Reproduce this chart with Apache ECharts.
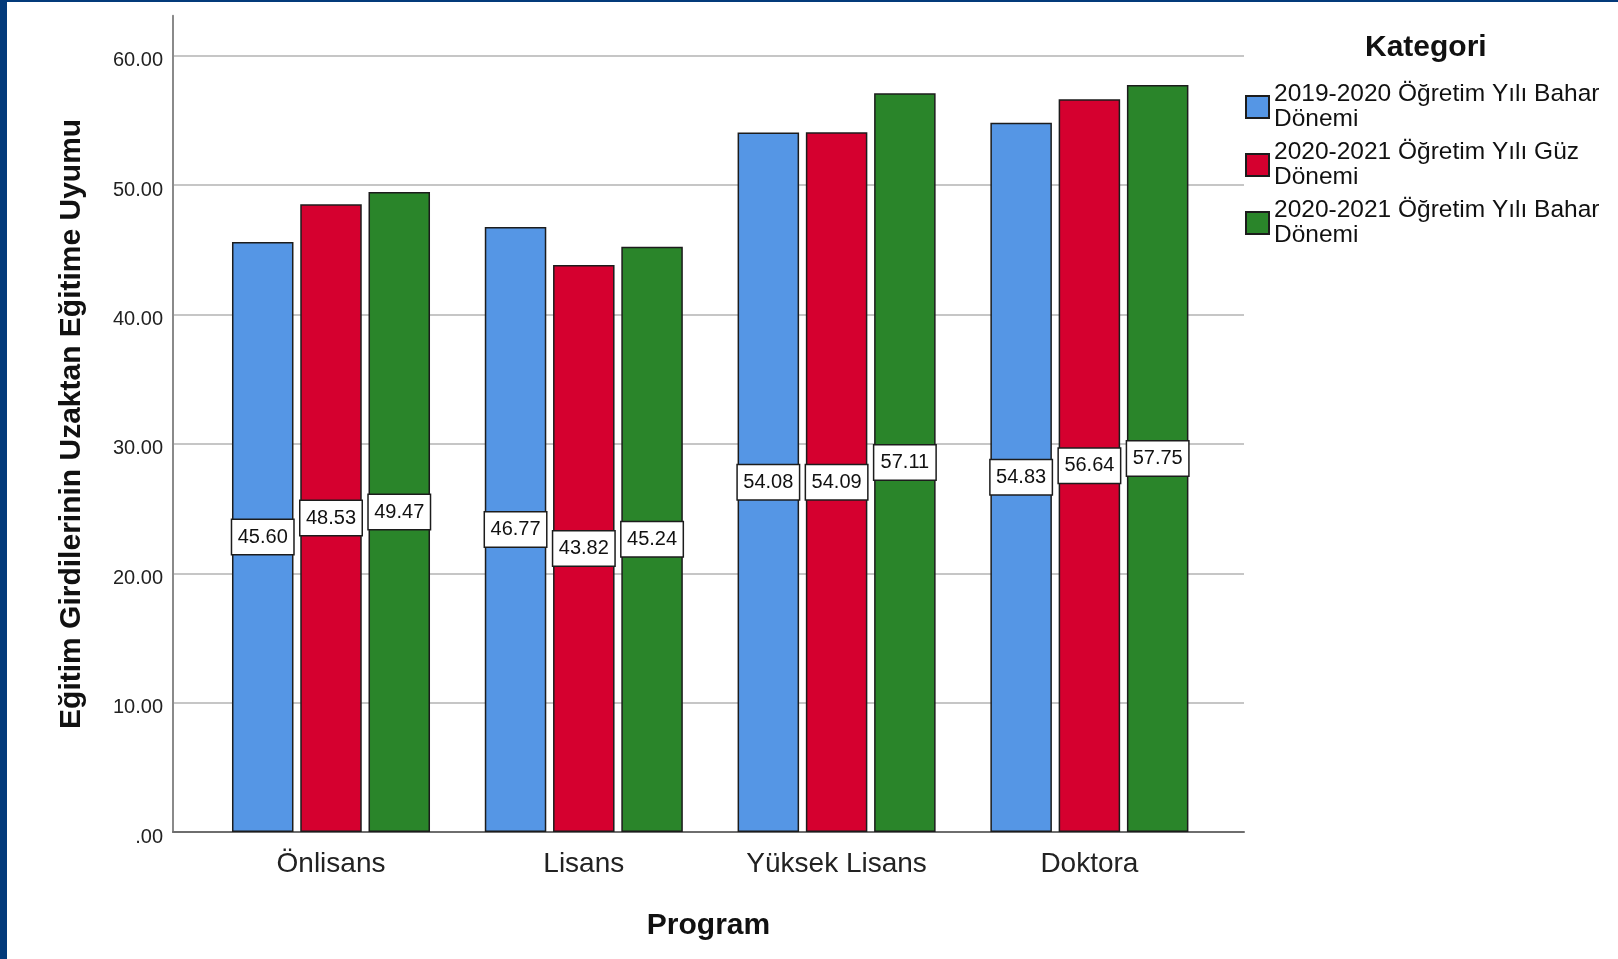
<!DOCTYPE html>
<html>
<head>
<meta charset="utf-8">
<script src="https://cdn.jsdelivr.net/npm/echarts@6/dist/echarts.min.js"></script>
<style>
html,body{margin:0;padding:0;background:#fff;}
#frame{position:absolute;left:0;top:0;width:1611px;height:957px;border-left:7px solid #033a7a;border-top:2px solid #033a7a;}
#chart{position:absolute;left:0;top:0;width:1618px;height:959px;}
</style>
</head>
<body>
<div id="frame"></div>
<div id="chart"></div>
<script>
const categories = ['Önlisans', 'Lisans', 'Yüksek Lisans', 'Doktora'];
const seriesNames = ['2019-2020 Öğretim Yılı Bahar Dönemi', '2020-2021 Öğretim Yılı Güz Dönemi', '2020-2021 Öğretim Yılı Bahar Dönemi'];
const bahar2019 = [45.60, 46.77, 54.08, 54.83];
const guz2020 = [48.53, 43.82, 54.09, 56.64];
const bahar2020 = [49.47, 45.24, 57.11, 57.75];
const colors = ['#5596e5', '#d5002f', '#2a852a'];
const yTicks = [0, 10, 20, 30, 40, 50, 60];

const FONT = '"Liberation Sans", Arial, sans-serif';
const YMAX = 63.1;
const chart = echarts.init(document.getElementById('chart'), null, {renderer: 'canvas'});

function barSeries(name, data, color) {
  return {
    name: name, type: 'bar', data: data,
    xAxisIndex: 1, yAxisIndex: 1,
    barWidth: 61.5, barGap: '11%',
    itemStyle: {color: color, borderColor: '#1c1c1c', borderWidth: 1.5},
    label: {
      show: true, position: 'inside',
      formatter: p => p.value.toFixed(2),
      fontFamily: FONT, fontSize: 20, color: '#111',
      backgroundColor: '#fff', borderColor: '#1c1c1c', borderWidth: 1.5,
      width: 51, align: 'center', lineHeight: 20, padding: [7, 5]
    },
    emphasis: {disabled: true}
  };
}

chart.setOption({
  animation: false,
  backgroundColor: 'transparent',
  title: {
    text: 'Kategori', left: 1365, top: 33, padding: 0,
    textStyle: {fontFamily: FONT, fontSize: 30, fontWeight: 'bold', color: '#111', lineHeight: 30}
  },
  legend: {
    orient: 'vertical', left: 1245, top: 82, padding: 0,
    itemWidth: 23, itemHeight: 22, itemGap: 8,
    icon: 'rect',
    data: seriesNames,
    formatter: n => n.replace(' Dönemi', '\nDönemi'),
    textStyle: {fontFamily: FONT, fontSize: 24.5, lineHeight: 25, color: '#111'},
    selectedMode: false
  },
  grid: [
    {left: 173, right: 374, top: 15.7, bottom: 127, containLabel: false},
    {left: 204.6, right: 402.2, top: 15.7, bottom: 127, containLabel: false}
  ],
  xAxis: [
    {
      gridIndex: 0, type: 'value', min: 0, max: 1,
      axisLine: {show: true, lineStyle: {color: '#6e6e6e', width: 2}},
      axisTick: {show: false}, axisLabel: {show: false}, splitLine: {show: false},
      name: 'Program', nameLocation: 'middle', nameGap: 79,
      nameTextStyle: {fontFamily: FONT, fontSize: 30, fontWeight: 'bold', color: '#111', lineHeight: 30}
    },
    {
      gridIndex: 1, type: 'category', data: categories,
      axisLine: {show: false}, axisTick: {show: false},
      axisLabel: {fontFamily: FONT, fontSize: 28, color: '#222', margin: 18}
    }
  ],
  yAxis: [
    {
      gridIndex: 0, type: 'value', min: 0, max: YMAX, interval: 10,
      axisLine: {show: true, lineStyle: {color: '#8a8a8a', width: 2}},
      axisTick: {show: false},
      splitLine: {show: true, showMaxLine: false, lineStyle: {color: '#c6c6c6', width: 2}},
      axisLabel: {
        fontFamily: FONT, fontSize: 20, color: '#222', margin: 10,
        showMaxLabel: false, verticalAlign: 'top', lineHeight: 10,
        formatter: v => yTicks.includes(v) ? (v === 0 ? '.00' : v.toFixed(2)) : ''
      },
      name: 'Eğitim Girdilerinin Uzaktan Eğitime Uyumu', nameLocation: 'middle', nameGap: 86,
      nameTextStyle: {fontFamily: FONT, fontSize: 30, fontWeight: 'bold', color: '#111', lineHeight: 30}
    },
    {
      gridIndex: 1, type: 'value', min: 0, max: YMAX, show: false, splitLine: {show: false}
    }
  ],
  series: [
    barSeries(seriesNames[0], bahar2019, colors[0]),
    barSeries(seriesNames[1], guz2020, colors[1]),
    barSeries(seriesNames[2], bahar2020, colors[2])
  ]
});
</script>
</body>
</html>
